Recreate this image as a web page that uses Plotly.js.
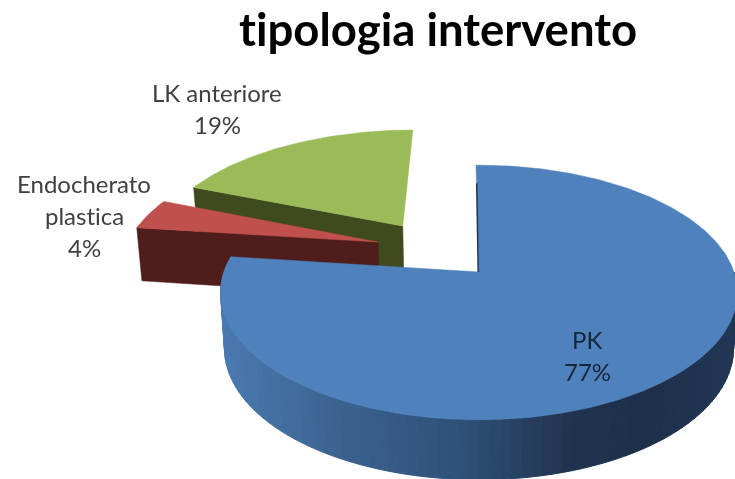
<!DOCTYPE html>
<html>
<head>
<meta charset="utf-8">
<script src="https://cdn.plot.ly/plotly-3.0.1.min.js"></script>
<style>html,body{margin:0;padding:0;background:#fff}#chart{width:735px;height:479px;filter:blur(0.5px)}text{font-variant-ligatures:none;font-feature-settings:"liga" 0}</style>
</head>
<body>
<div id="chart"></div>
<script>
// ---- data ----
const categories = ['PK', 'Endocherato plastica', 'LK anteriore'];
const values = [77, 4, 19];
const labelLines = [['PK'], ['Endocherato', 'plastica'], ['LK anteriore']];
const topColors = ['#4f81bd', '#c0504d', '#9bbb59'];
const wallColors = ['#335680', '#4f1e1c', '#3f4a1e'];
const chartTitle = 'tipologia intervento';

// ---- view geometry of the tilted pie ----
const cx = 479, cy = 272, R = 255, A = 124, persp = 0.161, depth = 55;
const sliceApex = [[0, 0], [-0.412, 0.251], [-0.318, 0.394]];
const sliceRadius = [1, 1.02, 1.01];
const labelAt = [[587, 339], [84, 183], [217, 92]];
const lineGap = 32;

function topPt(u, v) {
  const k = 1 + persp * v;
  return [cx + R * u / k, cy - A * v / k];
}
function bottomPt(u, v) {
  const p = topPt(u, v);
  return [cx + (p[0] - cx) * 0.985, p[1] + depth * (1 - 0.09 * v)];
}
function rim(i, deg) {
  const t = deg * Math.PI / 180;
  return [sliceApex[i][0] + sliceRadius[i] * Math.sin(t),
          sliceApex[i][1] + sliceRadius[i] * Math.cos(t)];
}
function poly(points, color, lw) {
  return {
    x: points.map(p => p[0]), y: points.map(p => p[1]),
    type: 'scatter', mode: 'lines', fill: 'toself', fillcolor: color,
    line: { color: color, width: lw === undefined ? 0.5 : lw },
    hoverinfo: 'skip', showlegend: false
  };
}

const total = values.reduce((a, b) => a + b, 0);
const starts = [];
values.reduce((acc, v, i) => { starts[i] = acc; return acc + v / total * 360; }, 0);
const ends = values.map((v, i) => starts[i] + v / total * 360);

function topFace(i) {
  const pts = [topPt(sliceApex[i][0], sliceApex[i][1])];
  for (let d = starts[i]; d <= ends[i] + 1e-6; d += 1) {
    const q = rim(i, d); pts.push(topPt(q[0], q[1]));
  }
  const e = rim(i, ends[i]); pts.push(topPt(e[0], e[1]));
  pts.push(pts[0]);
  return poly(pts, topColors[i]);
}
function radialWall(i) {
  const a = sliceApex[i], q = rim(i, starts[i]);
  return poly([topPt(a[0], a[1]), topPt(q[0], q[1]), bottomPt(q[0], q[1]), bottomPt(a[0], a[1]), topPt(a[0], a[1])], wallColors[i]);
}

// shading of the blue outer wall along the screen x position
const shadeX = [220, 333, 467, 567, 640, 735];
const shadeC = [[74, 122, 178], [59, 99, 144], [47, 79, 118], [32, 52, 79], [29, 48, 74], [32, 54, 84]];
function shade(x) {
  let k = 0;
  while (k < shadeX.length - 2 && x > shadeX[k + 1]) k++;
  const f = Math.min(1, Math.max(0, (x - shadeX[k]) / (shadeX[k + 1] - shadeX[k])));
  const c = shadeC[k].map((s, j) => Math.round(s + (shadeC[k + 1][j] - s) * f));
  return 'rgb(' + c.join(',') + ')';
}

const traces = [];
traces.push(radialWall(2), topFace(2));
traces.push(radialWall(1), topFace(1));
// outer wall of the big slice
for (let d = 90; d < ends[0]; d += 2) {
  const a = rim(0, d), b = rim(0, Math.min(d + 2, ends[0]));
  const ta = topPt(a[0], a[1]), tb = topPt(b[0], b[1]), ba = bottomPt(a[0], a[1]), bb = bottomPt(b[0], b[1]);
  traces.push(poly([ta, tb, bb, ba, ta], shade((ta[0] + tb[0]) / 2), 1));
}
traces.push(topFace(0));
// the start edge of the big slice leans slightly, with a dark sliver along it
const s0 = rim(0, starts[0]);
const p0 = topPt(s0[0], s0[1]);
const lean = [p0[0] - 3, p0[1]];
traces.push(poly([[cx, cy], lean, p0, [cx, cy]], topColors[0], 0.5));
const sliverTop = [lean[0] + 0.75, p0[1] + 18];
traces.push({ x: [sliverTop[0], cx - 0.8], y: [sliverTop[1], cy], type: 'scatter', mode: 'lines',
  line: { color: '#1f3450', width: 1.5 }, hoverinfo: 'skip', showlegend: false });

// labels, one annotation per text line
const annotations = [];
categories.forEach((c, i) => {
  const lines = labelLines[i].concat([values[i] + '%']);
  lines.forEach((t, j) => annotations.push({
    x: labelAt[i][0], y: labelAt[i][1] + j * lineGap, xref: 'x', yref: 'y',
    text: t, showarrow: false, xanchor: 'center', yanchor: 'middle',
    font: { family: 'Lato, sans-serif', size: 24, color: i === 0 ? '#16263a' : '#404040' }
  }));
});

const layout = {
  width: 735, height: 479,
  margin: { l: 0, r: 0, t: 0, b: 0 },
  paper_bgcolor: '#ffffff', plot_bgcolor: '#ffffff',
  showlegend: false,
  title: { text: '<b>' + chartTitle + '</b>', x: 0.596, xanchor: 'center', y: 1 - 30 / 479, yanchor: 'middle',
           font: { family: 'Lato, sans-serif', size: 45.5, color: '#000000' } },
  xaxis: { range: [0, 735], visible: false, fixedrange: true },
  yaxis: { range: [479, 0], visible: false, fixedrange: true },
  annotations: annotations,
  hovermode: false
};
Plotly.newPlot('chart', traces, layout, { displayModeBar: false, staticPlot: true });
</script>
</body>
</html>
